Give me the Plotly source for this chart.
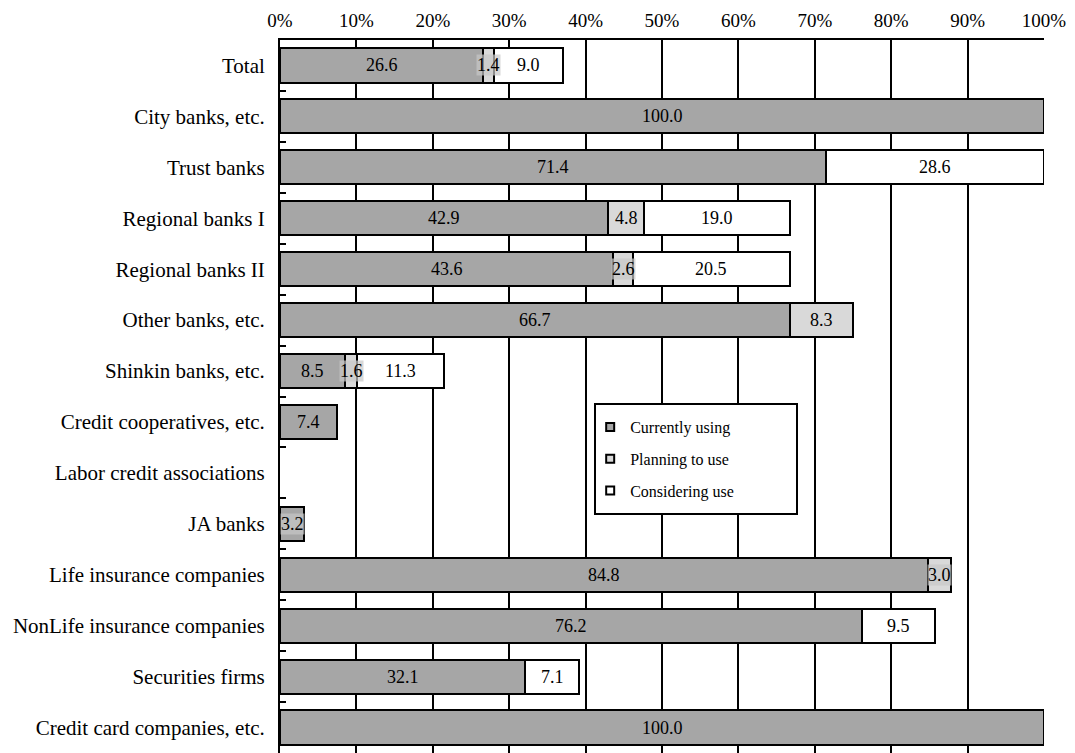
import plotly.graph_objects as go

categories = ["Total", "City banks, etc.", "Trust banks", "Regional banks I", "Regional banks II",
              "Other banks, etc.", "Shinkin banks, etc.", "Credit cooperatives, etc.",
              "Labor credit associations", "JA banks", "Life insurance companies",
              "NonLife insurance companies", "Securities firms", "Credit card companies, etc."]
currently_using = [26.6, 100.0, 71.4, 42.9, 43.6, 66.7, 8.5, 7.4, 0, 3.2, 84.8, 76.2, 32.1, 100.0]
planning_to_use = [1.4, 0, 0, 4.8, 2.6, 8.3, 1.6, 0, 0, 0, 3.0, 0, 0, 0]
considering_use = [9.0, 0, 28.6, 19.0, 20.5, 0, 11.3, 0, 0, 0, 0, 9.5, 7.1, 0]
series = [("Currently using", currently_using, "#A6A6A6"),
          ("Planning to use", planning_to_use, "#D9D9D9"),
          ("Considering use", considering_use, "#FFFFFF")]
x_ticks = list(range(0, 101, 10))

FONT = "Liberation Serif"
fig = go.Figure()
for i, (name, vals, col) in enumerate(series):
    fig.add_trace(go.Bar(
        y=categories, x=[v if v else None for v in vals], name=name, orientation="h",
        marker=dict(color=col, line=dict(color="black", width=2)),
        showlegend=False, hoverinfo="x+y"))
# legend entries with small square markers
for i, (name, vals, col) in enumerate(series):
    fig.add_trace(go.Scatter(
        x=[None], y=[None], mode="markers", name=name, legendgroup=str(i),
        marker=dict(symbol="square", size=8, color=col, line=dict(color="black", width=2))))

annotations = []
for ci, cat in enumerate(categories):
    left = 0
    for name, vals, col in series:
        v = vals[ci]
        if v > 0:
            small = v < 4
            annotations.append(dict(
                x=left + v / 2, y=cat, xref="x", yref="y", text=f"{v:.1f}",
                showarrow=False, font=dict(family=FONT, size=18, color="black"),
                bgcolor="rgba(200,200,200,0.7)" if small else None,
                borderpad=0))
        left += v

fig.update_layout(
    width=1075, height=753,
    margin=dict(l=280, r=31, t=40, b=0),
    barmode="stack", bargap=0.33,
    paper_bgcolor="white", plot_bgcolor="white",
    font=dict(family=FONT, size=16, color="black"),
    annotations=annotations,
    showlegend=True,
    legend=dict(x=0.406, y=0.481, xanchor="left", yanchor="top",
                bgcolor="rgba(0,0,0,0)", borderwidth=0,
                font=dict(family=FONT, size=16), tracegroupgap=8,
                itemwidth=30),
    shapes=[dict(type="rect", xref="paper", yref="paper",
                 x0=(595 - 280) / 764, x1=(797 - 280) / 764,
                 y0=(753 - 514) / 713, y1=(753 - 404) / 713,
                 fillcolor="white", line=dict(color="black", width=2), layer="above")],
    xaxis=dict(side="top", range=[0, 100], tickvals=x_ticks,
               ticktext=[f"{t}%" for t in x_ticks],
               showgrid=True, gridcolor="black", gridwidth=1.5,
               showline=True, linecolor="black", linewidth=2,
               ticks="", zeroline=False, tickfont=dict(size=19, family=FONT),
               ticklabelstandoff=3),
    yaxis=dict(autorange="reversed", showline=True, linecolor="black", linewidth=2,
               ticks="inside", tickson="boundaries", ticklen=6, tickcolor="black",
               tickwidth=2, showgrid=False, tickfont=dict(size=21, family=FONT),
               ticklabelstandoff=9),
)
fig.write_html("out.html")
